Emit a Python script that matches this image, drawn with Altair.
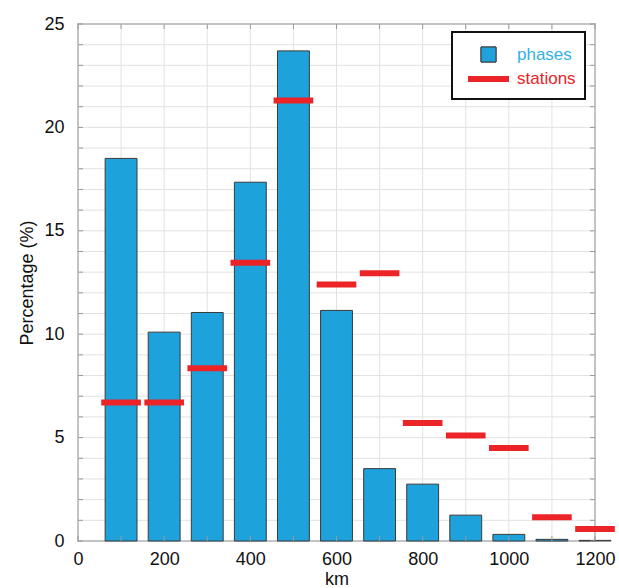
import altair as alt
import pandas as pd

# Distance bins (km) and the share of phases / stations in each bin (%)
distance_km = [100, 200, 300, 400, 500, 600, 700, 800, 900, 1000, 1100, 1200]
phases_pct = [18.5, 10.1, 11.05, 17.35, 23.7, 11.15, 3.5, 2.75, 1.25, 0.32, 0.08, 0.03]
stations_pct = [6.7, 6.7, 8.35, 13.45, 21.3, 12.4, 12.95, 5.7, 5.1, 4.5, 1.15, 0.58]

# Axis values
y_grid = list(range(0, 26))
x_grid = list(range(0, 1201, 100))
y_major = [0, 5, 10, 15, 20, 25]
x_major = [0, 200, 400, 600, 800, 1000, 1200]

BLUE = "#1ea2dc"
RED = "#ec2327"
FONT = "Liberation Sans"
W, H = 517, 517
BAR_HALF = 37
SEG_HALF = 46
GRID = "#e2e2e2"

df = pd.DataFrame({"km": distance_km, "phases": phases_pct, "stations": stations_pct})
df["b0"] = df["km"] - BAR_HALF
df["b1"] = df["km"] + BAR_HALF
df["s0"] = df["km"] - SEG_HALF
df["s1"] = df["km"] + SEG_HALF

xscale = alt.Scale(domain=[0, 1200], nice=False)
yscale = alt.Scale(domain=[0, 25], nice=False)

x_axis = alt.Axis(
    values=x_major, format="d",
    ticks=False, grid=False, domain=False,
    labelFontSize=18, labelFont=FONT, labelColor="#111",
    labelPadding=9, labelFlush=False,
    title="km", titleFontSize=18, titleFont=FONT,
    titleFontWeight="normal", titleColor="#111", titlePadding=2,
)
y_axis = alt.Axis(
    values=y_major, format="d",
    ticks=False, grid=False, domain=False,
    labelFontSize=18, labelFont=FONT, labelColor="#111",
    labelPadding=14, labelFlush=False,
    title="Percentage (%)", titleFontSize=18, titleFont=FONT,
    titleFontWeight="normal", titleColor="#111", titlePadding=7,
)

ydf = pd.DataFrame({"v": y_grid})
xdf = pd.DataFrame({"v": x_grid})

# Light grid: one line per percent and per 100 km
hgrid = alt.Chart(ydf).mark_rule(color=GRID, strokeWidth=1).encode(
    y=alt.Y("v:Q", scale=yscale, axis=y_axis), x=alt.value(0), x2=alt.value(W))
vgrid = alt.Chart(xdf).mark_rule(color=GRID, strokeWidth=1).encode(
    x=alt.X("v:Q", scale=xscale, axis=x_axis), y=alt.value(0), y2=alt.value(H))

base = alt.Chart(df)

bars = base.mark_rect(fill=BLUE, stroke="#3a3a3a", strokeWidth=1).encode(
    x=alt.X("b0:Q", scale=xscale),
    x2="b1:Q",
    y=alt.Y("phases:Q", scale=yscale),
    y2=alt.datum(0),
)

segments = base.mark_rule(color=RED, strokeWidth=6, strokeCap="butt").encode(
    x=alt.X("s0:Q", scale=xscale),
    x2="s1:Q",
    y=alt.Y("stations:Q", scale=yscale),
)

# Inward tick marks on all four sides of the frame
tick_color = "#999"
left_ticks = alt.Chart(ydf).mark_rule(color=tick_color, strokeWidth=1).encode(
    y=alt.Y("v:Q", scale=yscale), x=alt.value(0), x2=alt.value(5))
right_ticks = alt.Chart(ydf).mark_rule(color=tick_color, strokeWidth=1).encode(
    y=alt.Y("v:Q", scale=yscale), x=alt.value(W - 5), x2=alt.value(W))
bottom_ticks = alt.Chart(xdf).mark_rule(color=tick_color, strokeWidth=1).encode(
    x=alt.X("v:Q", scale=xscale), y=alt.value(H), y2=alt.value(H - 5))
top_ticks = alt.Chart(xdf).mark_rule(color=tick_color, strokeWidth=1).encode(
    x=alt.X("v:Q", scale=xscale), y=alt.value(0), y2=alt.value(5))

# Legend box
legend_df = pd.DataFrame({"label": ["phases", "stations"]})
leg_box = alt.Chart(legend_df).mark_rect(
    fill="white", stroke="#111", strokeWidth=2
).encode(x=alt.value(374), x2=alt.value(507), y=alt.value(8), y2=alt.value(75))
leg_square = alt.Chart(legend_df).mark_rect(
    fill=BLUE, stroke="#3a3a3a", strokeWidth=1
).encode(x=alt.value(403), x2=alt.value(418), y=alt.value(23), y2=alt.value(38))
leg_line = alt.Chart(legend_df).mark_rule(
    color=RED, strokeWidth=6, strokeCap="butt"
).encode(x=alt.value(390), x2=alt.value(431), y=alt.value(55))
leg_text1 = alt.Chart(legend_df).transform_filter("datum.label == 'phases'").mark_text(
    align="left", baseline="middle", font=FONT, fontSize=17, color="#35b0e4"
).encode(text="label:N", x=alt.value(439), y=alt.value(31))
leg_text2 = alt.Chart(legend_df).transform_filter("datum.label == 'stations'").mark_text(
    align="left", baseline="middle", font=FONT, fontSize=17, color=RED
).encode(text="label:N", x=alt.value(439), y=alt.value(55))

chart = alt.layer(
    hgrid, vgrid, bars, segments, left_ticks, right_ticks, bottom_ticks, top_ticks,
    leg_box, leg_square, leg_line, leg_text1, leg_text2,
).properties(
    width=W, height=H,
    autosize=alt.AutoSizeParams(type="none"),
    padding={"left": 78, "top": 24, "right": 24, "bottom": 47},
    background="white",
).configure_view(stroke="#888", strokeWidth=1.5)

chart.save("out.html", embed_options={"renderer": "svg", "actions": False})
